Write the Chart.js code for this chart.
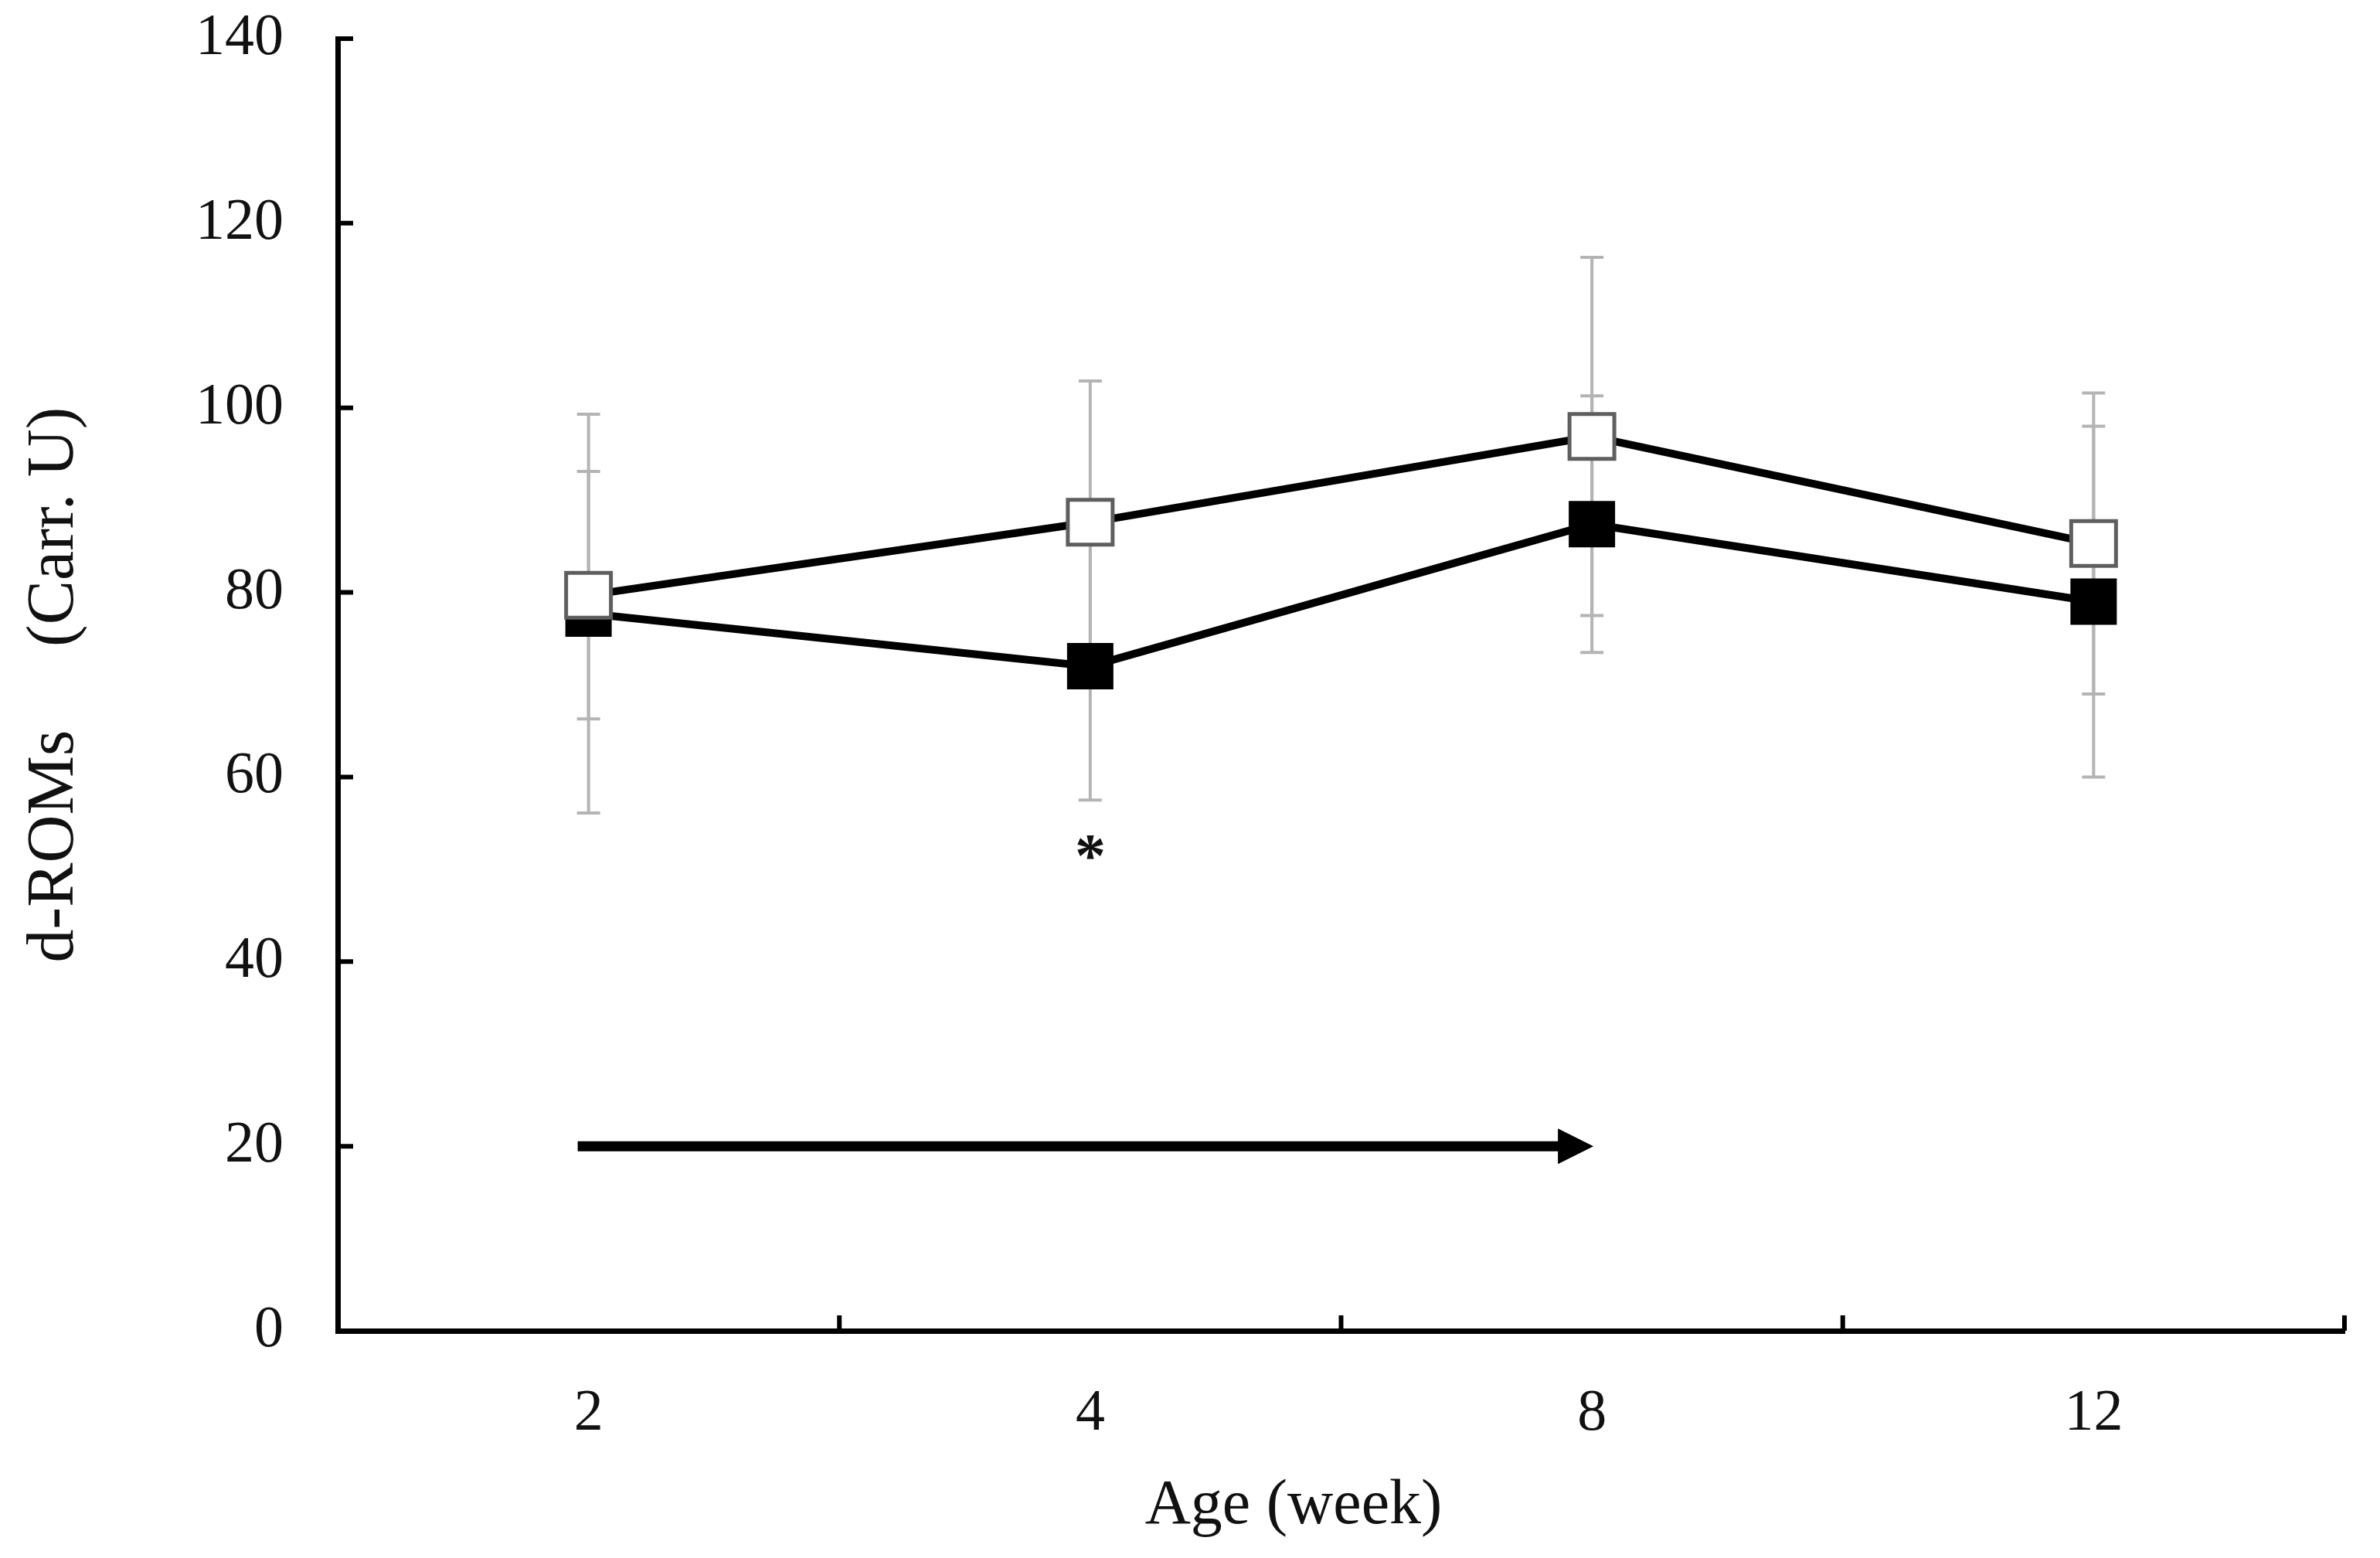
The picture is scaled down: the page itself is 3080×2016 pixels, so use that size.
<!DOCTYPE html>
<html>
<head>
<meta charset="utf-8">
<script src="https://cdn.jsdelivr.net/npm/chart.js@4.4.1/dist/chart.umd.min.js"></script>
<style>
html,body{margin:0;padding:0;background:#fff;}
#c{display:block;}
</style>
</head>
<body>
<canvas id="c" width="3080" height="2016" style="width:3080px;height:2016px"></canvas>
<script>
// ---- data ----
const categories = ['2', '4', '8', '12'];
const openValues = [79.7, 87.6, 96.9, 85.3];
const openSD = [13.4, 15.3, 19.4, 16.3];
const filledValues = [77.7, 72.0, 87.4, 79.0];
const filledSD = [21.6, 14.5, 13.9, 19.0];
const yTicks = [0, 20, 40, 60, 80, 100, 120, 140];
const arrowFrom = '2';
const arrowTo = '8';
const arrowValue = 20;
const starCategory = '4';
const starValue = 52;
const yTitle = 'd-ROMs\u3000 (Carr. U)';
const xTitle = 'Age (week)\u3000  ';

const FONT = "'Liberation Serif', 'DejaVu Serif', serif";

const errorBars = {
  id: 'errorBars',
  beforeDatasetsDraw(chart) {
    const ctx = chart.ctx;
    const x = chart.scales.x, y = chart.scales.y;
    ctx.save();
    ctx.strokeStyle = '#b4b4b4';
    ctx.lineWidth = 4;
    const draw = (vals, sds) => {
      vals.forEach((v, i) => {
        const px = x.getPixelForValue(i);
        const hi = y.getPixelForValue(v + sds[i]);
        const lo = y.getPixelForValue(v - sds[i]);
        ctx.beginPath();
        ctx.moveTo(px, hi); ctx.lineTo(px, lo);
        ctx.moveTo(px - 15, hi); ctx.lineTo(px + 15, hi);
        ctx.moveTo(px - 15, lo); ctx.lineTo(px + 15, lo);
        ctx.stroke();
      });
    };
    draw(openValues, openSD);
    draw(filledValues, filledSD);
    ctx.restore();
  }
};

const extras = {
  id: 'extras',
  afterDraw(chart) {
    const ctx = chart.ctx;
    const x = chart.scales.x, y = chart.scales.y;
    ctx.save();
    // inward tick marks
    ctx.strokeStyle = '#000';
    ctx.lineWidth = 6;
    ctx.beginPath();
    yTicks.forEach(t => {
      const py = y.getPixelForValue(t);
      ctx.moveTo(x.left, py); ctx.lineTo(x.left + 20, py);
    });
    for (let i = 0; i <= categories.length; i++) {
      const px = x.getPixelForValue(i - 0.5);
      ctx.moveTo(px, y.bottom); ctx.lineTo(px, y.bottom - 20);
    }
    ctx.stroke();
    // arrow
    const ay = y.getPixelForValue(arrowValue);
    const ax0 = x.getPixelForValue(categories.indexOf(arrowFrom)) - 14;
    const tip = x.getPixelForValue(categories.indexOf(arrowTo)) + 2;
    ctx.lineWidth = 13;
    ctx.lineCap = 'butt';
    ctx.beginPath();
    ctx.moveTo(ax0, ay); ctx.lineTo(tip - 40, ay);
    ctx.stroke();
    ctx.fillStyle = '#000';
    ctx.beginPath();
    ctx.moveTo(tip - 46, ay - 23);
    ctx.lineTo(tip, ay);
    ctx.lineTo(tip - 46, ay + 23);
    ctx.closePath();
    ctx.fill();
    // asterisk
    const sx = x.getPixelForValue(categories.indexOf(starCategory));
    const sy = y.getPixelForValue(starValue);
    ctx.font = 'bold 80px ' + FONT;
    ctx.textAlign = 'center';
    ctx.textBaseline = 'alphabetic';
    ctx.fillStyle = '#111';
    ctx.fillText('*', sx, sy + 33);
    ctx.restore();
  }
};

new Chart(document.getElementById('c'), {
  type: 'line',
  data: {
    labels: categories,
    datasets: [
      {
        label: 'open',
        data: openValues,
        order: 0,
        borderColor: '#000',
        borderWidth: 10,
        tension: 0,
        pointStyle: 'rect',
        pointRadius: 41,
        pointBackgroundColor: '#fff',
        pointBorderColor: '#5e5e5e',
        pointBorderWidth: 5
      },
      {
        label: 'filled',
        data: filledValues,
        order: 1,
        borderColor: '#000',
        borderWidth: 10,
        tension: 0,
        pointStyle: 'rect',
        pointRadius: 41,
        pointBackgroundColor: '#000',
        pointBorderColor: '#000',
        pointBorderWidth: 2
      }
    ]
  },
  options: {
    responsive: false,
    devicePixelRatio: 1,
    animation: false,
    layout: { padding: { top: 50, right: 10, bottom: 0, left: 0 } },
    plugins: { legend: { display: false }, tooltip: { enabled: false } },
    scales: {
      x: {
        type: 'category',
        offset: true,
        grid: { display: false, drawTicks: false, offset: true },
        border: { display: true, color: '#000', width: 7 },
        ticks: { color: '#111', font: { family: FONT, size: 76 }, padding: 62 },
        title: { display: true, text: xTitle, color: '#111', font: { family: FONT, size: 82 }, padding: { top: 0, bottom: 17 } },
        afterFit(scale) {
          scale.height = 294;
          scale.paddingLeft = 0; scale.paddingRight = 0;
          scale.paddingTop = 0; scale.paddingBottom = 0;
        }
      },
      y: {
        min: 0, max: 140,
        afterBuildTicks(scale) { scale.ticks = yTicks.map(v => ({ value: v })); },
        grid: { display: false, drawTicks: false },
        border: { display: true, color: '#000', width: 7 },
        ticks: { color: '#111', font: { family: FONT, size: 76 }, padding: 70 },
        title: { display: true, text: yTitle, color: '#111', font: { family: FONT, size: 86 }, padding: { top: 20, bottom: 0 } },
        afterFit(scale) {
          scale.width = 437;
          scale.paddingTop = 0; scale.paddingBottom = 0;
          scale.paddingLeft = 0; scale.paddingRight = 0;
        }
      }
    }
  },
  plugins: [errorBars, extras]
});
</script>
</body>
</html>
